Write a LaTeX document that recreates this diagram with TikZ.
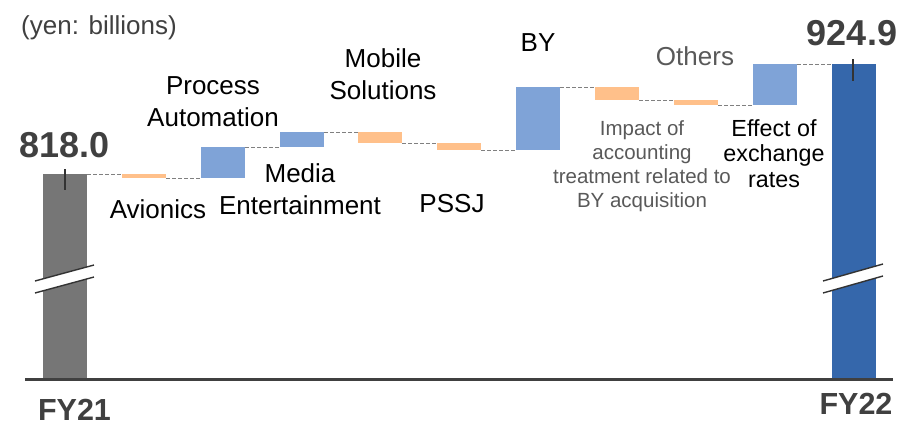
\documentclass[tikz,border=0pt]{standalone}
\usepackage{fontspec}
\setmainfont{Liberation Sans}
\definecolor{gbar}{HTML}{767676}
\definecolor{obar}{HTML}{FFC08A}
\definecolor{lbar}{HTML}{7FA3D7}
\definecolor{dbar}{HTML}{3567AB}
\definecolor{txt}{HTML}{404040}
\definecolor{gtxt}{HTML}{595959}
\definecolor{conncol}{HTML}{808080}
\definecolor{markcol}{HTML}{333333}
\begin{document}
\begin{tikzpicture}[x=1pt,y=-1pt,
  barbox/.style={draw=none,inner sep=0pt,outer sep=0pt,minimum width=44pt,anchor=north west},
  link/.style={draw=conncol,line width=0.9pt,dash pattern=on 4pt off 2pt},
  brk/.style={draw=markcol,line width=1.4pt},
  tickmark/.style={draw=markcol,line width=1.6pt},
  lbl/.style={font=\fontsize{26}{31.5}\selectfont,align=center,inner sep=0pt,anchor=base},
  smalllbl/.style={font=\fontsize{20.5}{24}\selectfont,align=center,inner sep=0pt,anchor=base,text=gtxt},
  midlbl/.style={font=\fontsize{23.3}{25.5}\selectfont,align=center,inner sep=0pt,anchor=base},
  total/.style={font=\fontsize{36}{40}\bfseries\selectfont,text=txt,inner sep=0pt,anchor=base},
  fylbl/.style={font=\fontsize{30.5}{34}\bfseries\selectfont,text=txt,inner sep=0pt,anchor=base}
]
\useasboundingbox (0,0) rectangle (900,421);

% bars
\node[barbox,fill=gbar,minimum height=205pt] (fy21) at (43,174) {};
\node[barbox,fill=obar,minimum height=4pt]   (avi)  at (122,174) {};
\node[barbox,fill=lbar,minimum height=31pt]  (pa)   at (201,147) {};
\node[barbox,fill=lbar,minimum height=15pt]  (me)   at (280,132) {};
\node[barbox,fill=obar,minimum height=11pt]  (ms)   at (358,132) {};
\node[barbox,fill=obar,minimum height=7pt]   (pssj) at (437,143) {};
\node[barbox,fill=lbar,minimum height=63pt]  (by)   at (516,87) {};
\node[barbox,fill=obar,minimum height=13pt]  (imp)  at (595,87) {};
\node[barbox,fill=obar,minimum height=5pt]   (oth)  at (674,100) {};
\node[barbox,fill=lbar,minimum height=41pt]  (fx)   at (753,64) {};
\node[barbox,fill=dbar,minimum height=315pt] (fy22) at (832,64) {};

% connectors
\draw[link] (fy21.north east) -- (avi.north west);
\draw[link] (avi.south east) -- (pa.south west);
\draw[link] (pa.north east) -- (me.south west);
\draw[link] (me.north east) -- (ms.north west);
\draw[link] (ms.south east) -- (pssj.north west);
\draw[link] (pssj.south east) -- (by.south west);
\draw[link] (by.north east) -- (imp.north west);
\draw[link] (imp.south east) -- (oth.north west);
\draw[link] (oth.south east) -- (fx.south west);
\draw[link] (fx.north east) -- (fy22.north west);

% axis
\coordinate (axl) at (25,379.5);
\coordinate (axr) at (893,379.5);
\draw[line width=3pt,draw=txt] (axl) -- (axr);

% break marks
\fill[white] (35,281) -- (94,265) -- (94,277) -- (35,293) -- cycle;
\draw[brk] (35,281) -- (94,265);
\draw[brk] (35,293) -- (94,277);
\fill[white] (823,281) -- (883,264) -- (883,276) -- (823,293) -- cycle;
\draw[brk] (823,281) -- (883,264);
\draw[brk] (823,293) -- (883,276);

% tick marks
\draw[tickmark] (65,169) -- (65,190);
\draw[tickmark] (853,59) -- (853,81);

% texts
\node[font=\fontsize{26}{31}\selectfont,text=txt,inner sep=0pt,anchor=base west] (unit) at (21,34) {(yen: billions)};
\node[total] (v21) at (64.5,157) {818.0};
\node[total] (v22) at (852,45) {924.9};
\node[fylbl] (l21) at (74.5,420) {FY21};
\node[fylbl] (l22) at (856,414) {FY22};

\node[lbl] (tavi) at (158,218) {Avionics};
\node[lbl] (tpa) at (213,126) {Process\\Automation};
\node[lbl] (tme) at (300,214) {Media\\Entertainment};
\node[lbl] (tms) at (383,99) {Mobile\\Solutions};
\node[lbl] (tpssj) at (452,212) {PSSJ};
\node[lbl] (tby) at (538,51) {BY};
\node[lbl,text=gtxt] (toth) at (695,65) {Others};
\node[smalllbl] (timp) at (642,207) {Impact of\\accounting\\treatment related to\\BY acquisition};
\node[midlbl] (tfx) at (774,187) {Effect of\\exchange\\rates};
\end{tikzpicture}
\end{document}
